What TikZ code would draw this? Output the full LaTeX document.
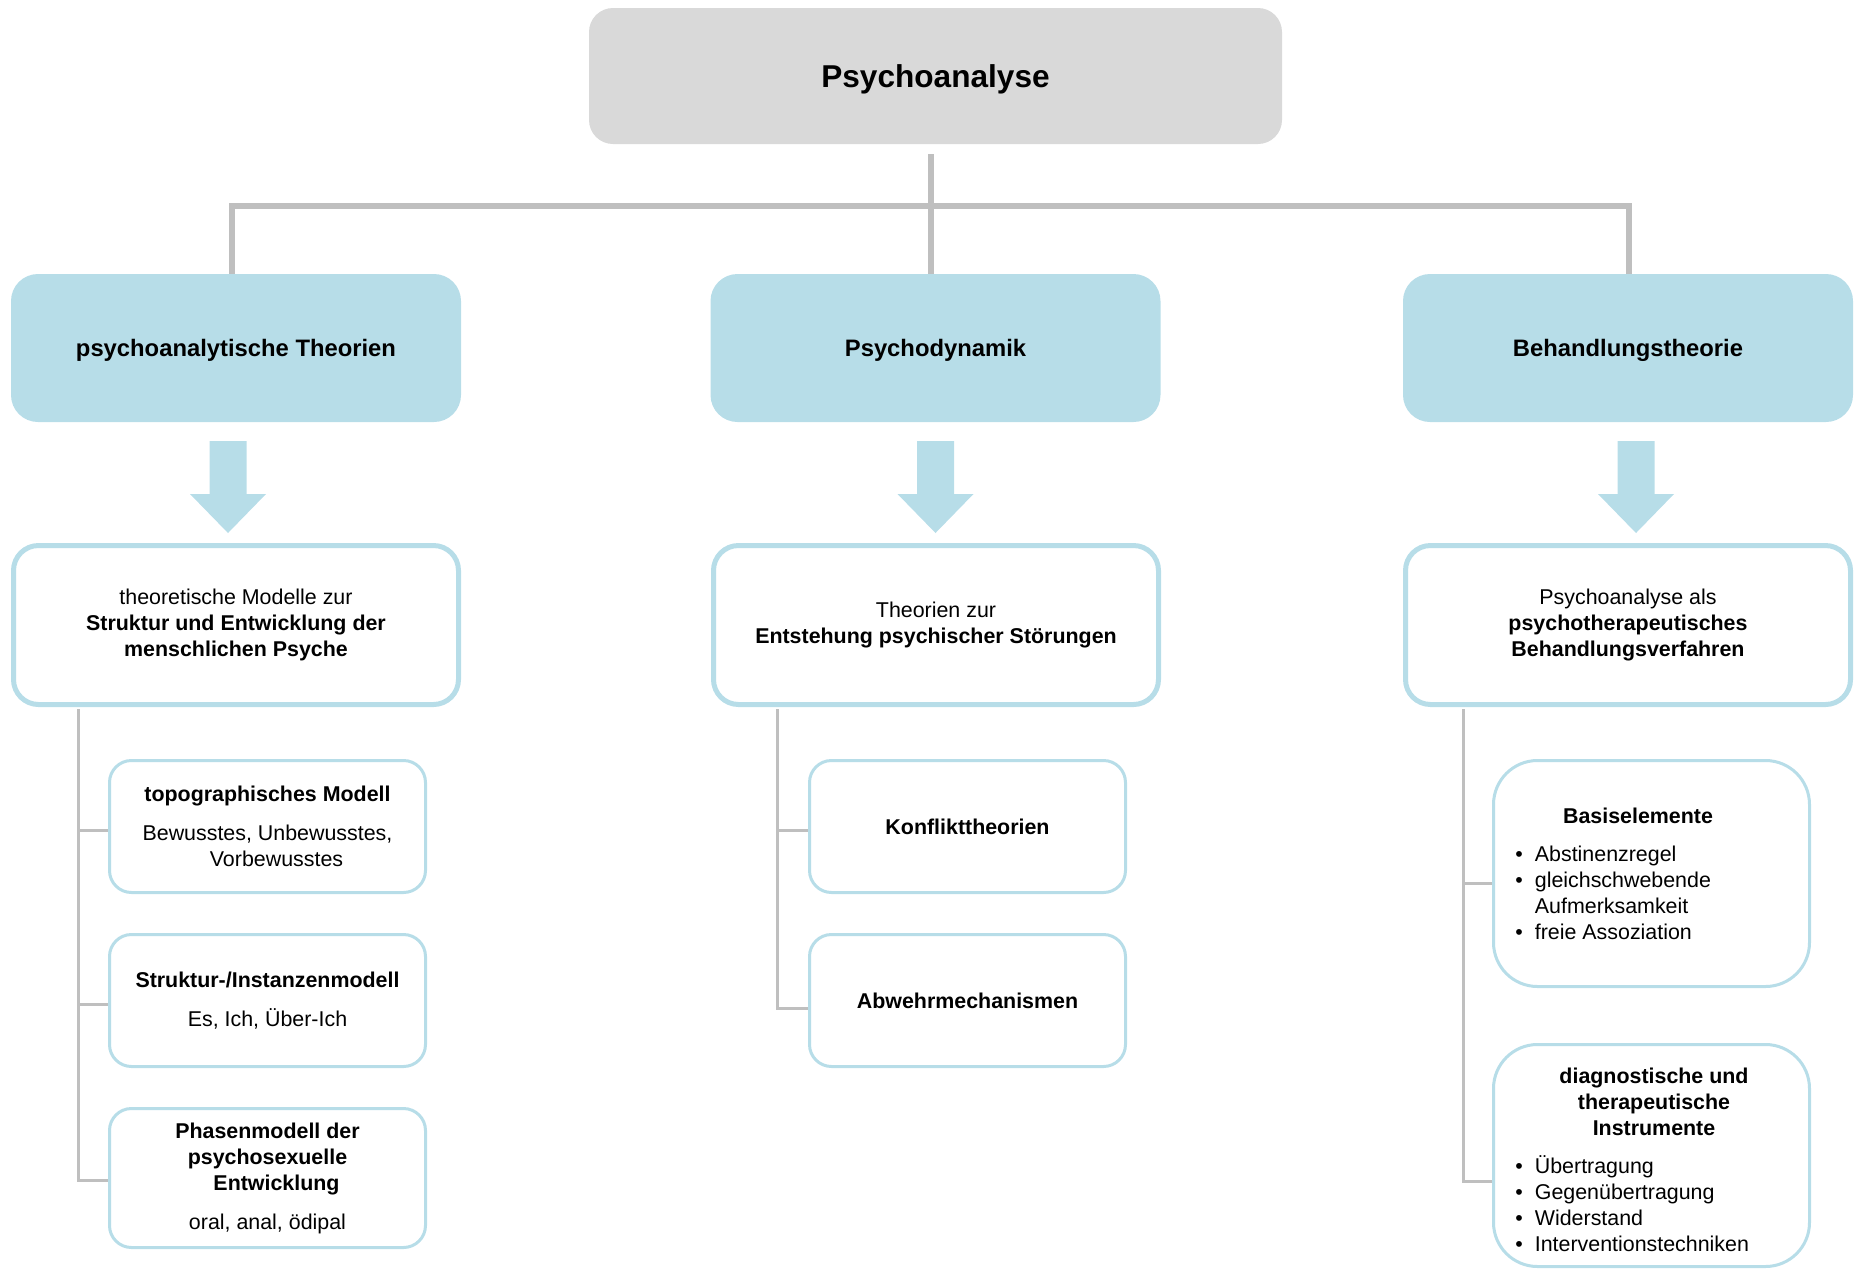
\documentclass[tikz,border=0pt]{standalone}
\usepackage{fontspec}
\setmainfont{Liberation Sans}
\usetikzlibrary{calc}
\definecolor{topgray}{HTML}{D9D9D9}
\definecolor{lblue}{HTML}{B7DDE8}
\definecolor{linegray}{HTML}{BFBFBF}
\newcommand{\blockarrowat}[1]{%
  \fill[lblue] (#1-18.5,441) -- (#1+18.5,441) -- (#1+18.5,494) -- (#1+38,494)
    -- (#1,533) -- (#1-38,494) -- (#1-18.5,494) -- cycle;}
\begin{document}
\begin{tikzpicture}[x=0.5pt,y=-0.5pt,
  txt/.style={font=\fontsize{10.7}{13}\selectfont, align=center, text=black},
  boldtxt/.style={font=\fontsize{10.7}{13}\selectfont\bfseries, align=center, text=black},
  listtxt/.style={font=\fontsize{10.7}{13}\selectfont, text=black, inner sep=0pt, anchor=base west},
  topbox/.style={fill=topgray, rounded corners=12pt, minimum width=346.5pt, minimum height=68pt,
    font=\fontsize{15.8}{19}\selectfont\bfseries, text height=15pt, text depth=3.4pt},
  catbox/.style={fill=lblue, rounded corners=13.5pt, minimum width=225pt, minimum height=74pt,
    font=\fontsize{11.9}{14}\selectfont\bfseries, text height=11.1pt, text depth=2.5pt},
  descbox/.style={draw=lblue, line width=2.5pt, fill=white, rounded corners=12.5pt,
    minimum width=222.5pt, minimum height=79.5pt, txt},
  subbox/.style={draw=lblue, line width=1.5pt, fill=white, rounded corners=11pt,
    minimum width=158pt, minimum height=66pt, txt},
  listbox/.style={draw=lblue, line width=1.5pt, fill=white, rounded corners=22pt,
    minimum width=158pt, minimum height=113pt},
  tree/.style={draw=linegray, line width=1.5pt},
  trunk/.style={draw=linegray, line width=2.6pt},
]
\useasboundingbox (0,0) rectangle (1854,1271);

% level 1
\node[topbox] (root) at (935.5,76) {Psychoanalyse};
% level 2
\node[catbox] (theo) at (236,348) {psychoanalytische Theorien};
\node[catbox] (dyn) at (935.5,348) {Psychodynamik};
\node[catbox] (beh) at (1628,348) {Behandlungstheorie};

% trunk connectors
\coordinate (rootbot) at (931,154);
\coordinate (tl) at (232,206);
\coordinate (tm) at (931,206);
\coordinate (tr) at (1629,206);
\draw[trunk] (rootbot) -- (tm |- dyn.north);
\draw[trunk] (theo.north -| tl) -- (tl) -- (tr) -- (beh.north -| tr);

% block arrows
\blockarrowat{228}
\blockarrowat{935.5}
\blockarrowat{1636}

% level 3
\node[descbox] (d1) at (236,625) {theoretische Modelle zur\\\textbf{Struktur und Entwicklung der}\\\textbf{menschlichen Psyche}};
\node[descbox] (d2) at (936,625) {Theorien zur\\\textbf{Entstehung psychischer Störungen}};
\node[descbox] (d3) at (1628,625) {Psychoanalyse als\\\textbf{psychotherapeutisches}\\\textbf{Behandlungsverfahren}};

% level 4 left
\node[subbox] (topo) at (267.5,826.5) {\textbf{topographisches Modell}\\[6.5pt]Bewusstes, Unbewusstes,\\\hspace*{9pt}Vorbewusstes};
\node[subbox] (inst) at (267.5,1000.5) {\textbf{Struktur-/Instanzenmodell}\\[6.5pt]Es, Ich, Über-Ich};
\node[subbox, minimum height=69.5pt] (phase) at (267.5,1178) {\textbf{Phasenmodell der}\\\textbf{psychosexuelle}\\\hspace*{9pt}\textbf{Entwicklung}\\[6.5pt]oral, anal, ödipal};

% level 4 middle
\node[subbox] (konf) at (967.5,826.5) {\textbf{Konflikttheorien}};
\node[subbox] (abw) at (967.5,1000.5) {\textbf{Abwehrmechanismen}};

% level 4 right
\node[listbox] (bas) at (1651.5,873.5) {};
\node[listbox, minimum height=111pt] (diag) at (1651.5,1155.5) {};
\node[boldtxt] (basT) at (1638,816) {Basiselemente};
\node[listtxt] (basL) at (1515,861) {\begin{tabular}[t]{@{}l@{\hspace{6pt}}l@{}}
\textbullet & Abstinenzregel\\
\textbullet & gleichschwebende\\
 & Aufmerksamkeit\\
\textbullet & freie Assoziation\end{tabular}};
\node[boldtxt] (diagT) at (1654,1102) {diagnostische und\\therapeutische\\Instrumente};
\node[listtxt] (diagL) at (1515,1173) {\begin{tabular}[t]{@{}l@{\hspace{6pt}}l@{}}
\textbullet & Übertragung\\
\textbullet & Gegenübertragung\\
\textbullet & Widerstand\\
\textbullet & Interventionstechniken\end{tabular}};

% tree lines
\coordinate (topoW) at ([yshift=-2pt]topo.west);
\coordinate (instW) at ([yshift=-2pt]inst.west);
\coordinate (phaseW) at ([yshift=-1pt]phase.west);
\coordinate (konfW) at ([yshift=-2pt]konf.west);
\coordinate (abwW) at ([yshift=-4pt]abw.west);
\coordinate (basW) at ([yshift=-5pt]bas.west);
\coordinate (diagW) at ([yshift=-12.75pt]diag.west);

\coordinate (ls) at (78,709);
\draw[tree] (ls) |- (phaseW);
\draw[tree] (ls |- topoW) -- (topoW);
\draw[tree] (ls |- instW) -- (instW);

\coordinate (ms) at (777,709);
\draw[tree] (ms) |- (abwW);
\draw[tree] (ms |- konfW) -- (konfW);

\coordinate (rs) at (1463,709);
\draw[tree] (rs) |- (diagW);
\draw[tree] (rs |- basW) -- (basW);
\end{tikzpicture}
\end{document}
